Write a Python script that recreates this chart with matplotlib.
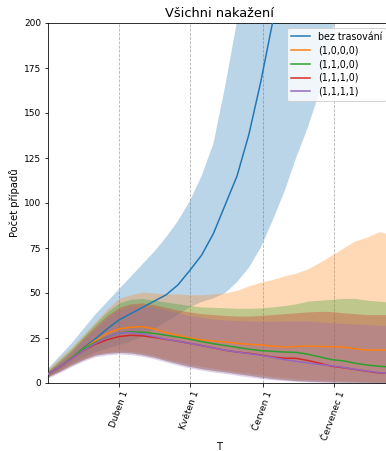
import numpy as np
import matplotlib
matplotlib.use("Agg")
import matplotlib.pyplot as plt

# ---- data ----
start_date = np.datetime64("2020-03-02")
days = [0, 5, 10, 15, 20, 25, 30, 35, 40, 45, 50, 55, 60, 65, 70, 75, 80, 85, 90,
        95, 100, 105, 110, 115, 120, 125, 130, 135, 140, 144]

labels = ["bez trasování", "(1,0,0,0)", "(1,1,0,0)", "(1,1,1,0)", "(1,1,1,1)"]

mean_none = [5, 9, 14, 19.5, 24.5, 30, 35, 38.5, 42, 45.5, 49, 54.5, 62.5, 71, 83, 99, 115, 138, 167,
             200, 235, 270, 300, 330, 360, 390, 420, 450, 480, 500]
upper_none = [8, 15, 22, 30, 38, 45, 52, 59, 66, 73, 81, 90, 101, 115, 133, 165, 201, 240, 280,
              320, 360, 400, 440, 480, 520, 560, 600, 640, 680, 700]
lower_none = [3, 7, 11, 14, 17, 19, 21, 23, 26, 30, 34, 38, 42, 45, 47, 50, 56, 64, 75,
              90, 106, 125, 142, 162, 192, 225, 260, 300, 340, 370]

mean_1000 = [5, 9, 14, 19, 23.5, 27.5, 30, 31, 31.3, 30, 28, 26.5, 25, 24, 23.3, 22.8, 22, 21.5, 21.2,
             20.5, 20, 20.3, 20.5, 20.3, 20.2, 20, 19, 18.3, 18.3, 18.3]
upper_1000 = [8, 14, 20, 27, 34, 41, 47, 49, 50.5, 50, 49.5, 49.5, 49, 49, 49.5, 50, 51.5, 54, 56,
              57.5, 59.5, 61, 63.5, 67, 71, 75, 79, 81, 84, 83]
lower_1000 = [3.8, 7, 10.5, 13.5, 16, 17.2, 17.8, 17.6, 16.7, 15.3, 13.5, 12, 10.5, 9.3, 8.2, 7.3, 6.3, 5.5, 4.5,
              3.7, 3, 2.4, 2, 1.7, 1.4, 1.2, 1, 0.8, 0.6, 0.5]

mean_1100 = [5, 9, 14, 19, 22.5, 25.5, 27.8, 28.5, 28.2, 27.5, 26.5, 25.5, 24.4, 23, 21.8, 20.8, 19.8, 18.8, 18,
             17.6, 17.2, 17, 16, 14.5, 13, 12.3, 11, 10, 9.3, 9]
upper_1100 = [7, 13, 19, 26, 33, 39.5, 44.5, 46.5, 47, 46, 45, 44, 43, 42.3, 42, 41.8, 41.5, 41.5, 41.7,
              42.3, 43, 44, 45.5, 46, 46.5, 47, 47, 46, 45.5, 45]
lower_1100 = [3.5, 6.5, 10, 13, 15.5, 16.5, 17, 16.7, 15.7, 14.3, 12.5, 10.8, 9.2, 8, 7, 6.2, 5.2, 4.3, 3.3,
              2.5, 1.9, 1.3, 1, 0.8, 0.6, 0.5, 0.4, 0.3, 0.2, 0.2]

mean_1110 = [5, 9, 13.5, 18, 21.5, 24, 25.8, 26.5, 26.2, 25.3, 24.2, 23.2, 22, 20.8, 19.5, 18.2, 17.2, 16.5, 15.6,
             14.5, 13.8, 13.7, 12.5, 11, 9.3, 8.5, 7.5, 6.5, 5.6, 5.4]
upper_1110 = [6.5, 12, 18, 25, 31.5, 37.5, 42, 44, 44.5, 43.5, 42, 40.5, 39.5, 38.5, 38, 37.5, 37.2, 37.2, 37.5,
              38, 38.5, 39, 39.5, 39.8, 39.7, 39, 38.5, 38, 38, 38]
lower_1110 = [3.5, 6.5, 10, 13, 15.5, 16.5, 17, 16.7, 15.7, 14.3, 12.5, 10.8, 9.2, 8, 7, 6.2, 5.2, 4.3, 3.3,
              2.5, 1.9, 1.3, 1, 0.8, 0.6, 0.5, 0.4, 0.3, 0.2, 0.2]

mean_1111 = [5, 9, 13.5, 18, 22, 25.5, 27.8, 28, 27.2, 25.8, 24.3, 23.2, 22, 20.8, 19.5, 18.2, 17.2, 16.3, 15.4,
             14.3, 13, 12, 11.2, 10.3, 9.6, 8.7, 7.6, 6.7, 5.8, 5.4]
upper_1111 = [6, 11.5, 17, 24, 30, 36, 40.5, 42.5, 43, 42, 40.5, 39, 37.5, 36.5, 35.5, 35, 34.7, 34.5, 34.3,
              34.3, 34.5, 34.5, 34.5, 34, 33.5, 33, 32.8, 32.5, 32, 32]
lower_1111 = [2.8, 5.8, 9.2, 12.2, 14.6, 15.6, 16.1, 15.8, 14.8, 13.4, 11.6, 9.9, 8.3, 7.1, 6.1, 5.3, 4.3, 3.4, 2.5,
              1.8, 1.3, 0.9, 0.6, 0.4, 0.3, 0.2, 0.1, 0.1, 0.0, 0.0]

tick_dates = ["2020-04-01", "2020-05-01", "2020-06-01", "2020-07-01"]
tick_labels = ["Duben 1", "Květen 1", "Červen 1", "Červenec 1"]

# ---- plotting ----
dpi = 72
fig = plt.figure(figsize=(386 / dpi, 451 / dpi), dpi=dpi)
ax = fig.add_axes([48 / 386, (451 - 383) / 451, (390.6 - 48) / 386, (383 - 23) / 451])

x = start_date + np.array(days).astype("timedelta64[D]")
series = [
    (mean_none, lower_none, upper_none),
    (mean_1000, lower_1000, upper_1000),
    (mean_1100, lower_1100, upper_1100),
    (mean_1110, lower_1110, upper_1110),
    (mean_1111, lower_1111, upper_1111),
]
colors = ["C0", "C1", "C2", "C3", "C4"]
for (m, lo, up), c, lab in zip(series, colors, labels):
    ax.fill_between(x, lo, up, color=c, alpha=0.3, linewidth=0, zorder=1)
for (m, lo, up), c, lab in zip(series, colors, labels):
    ax.plot(x, m, color=c, label=lab, linewidth=1.5, zorder=3)

ax.set_ylim(0, 200)
ax.set_xlim(start_date, start_date + np.timedelta64(145, "D"))
tick_x = np.array(tick_dates, dtype="datetime64[D]")
ax.set_xticks(tick_x)
ax.set_xticklabels(tick_labels, rotation=70, fontsize=9)
ax.tick_params(axis="y", labelsize=9)
ax.grid(axis="x", linestyle="--", color="#b0b0b0", linewidth=0.8)
ax.set_axisbelow(True)

ax.set_title("Všichni nakažení", fontsize=13)
ax.set_ylabel("Počet případů", fontsize=10)
ax.set_xlabel("T", fontsize=10)
ax.xaxis.set_label_coords(0.5, -0.163)
ax.legend(loc="upper right", fontsize=9.5, labelspacing=0.4)

fig.savefig("out.png", dpi=dpi)
